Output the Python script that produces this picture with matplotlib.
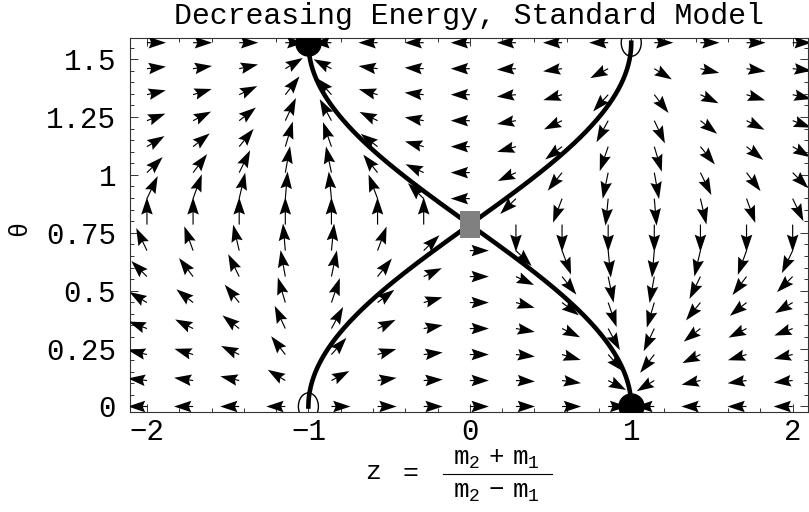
import numpy as np
import matplotlib.pyplot as plt
from matplotlib.patches import Ellipse, Rectangle
from matplotlib.ticker import MultipleLocator
from matplotlib.lines import Line2D

plt.rcParams['font.family'] = ['Liberation Mono', 'DejaVu Sans Mono']
plt.rcParams['mathtext.fontset'] = 'custom'
plt.rcParams['mathtext.rm'] = 'Liberation Mono'
plt.rcParams['mathtext.it'] = 'Liberation Mono'

# grid of the vector field (arrow tails)
z_grid = np.linspace(-2, 2, 15)
theta_grid = np.linspace(0, np.pi / 2, 15)
arrow_len = 0.118

# fixed points
stable_z = [-1, 1]
stable_theta = [np.pi / 2, 0]
unstable_z = [-1, 1]
unstable_theta = [0, np.pi / 2]
saddle_z = [0]
saddle_theta = [np.pi / 4]

x_ticks = [-2, -1, 0, 1, 2]
y_ticks = [0, 0.25, 0.5, 0.75, 1, 1.25, 1.5]
y_tick_labels = ['0', '0.25', '0.5', '0.75', '1', '1.25', '1.5']


def flow(z, th):
    dz = (1 - z**2) * np.cos(2 * th)
    dth = -0.5 * z * np.sin(2 * th)
    return dz, dth


fig = plt.figure(figsize=(8.09, 5.12), dpi=100)
ax = fig.add_axes([130 / 809, 1 - 411.5 / 512, 678 / 809, (411.5 - 37.7) / 512])

Z, T = np.meshgrid(z_grid, theta_grid)
U, V = flow(Z, T)
N = np.hypot(U, V)
ok = N > 1e-9
ax.quiver(Z[ok], T[ok], U[ok] / N[ok] * arrow_len, V[ok] / N[ok] * arrow_len,
          angles='xy', scale_units='xy', scale=1, pivot='tail',
          width=0.0017, headwidth=10, headlength=15, headaxislength=13,
          color='black', zorder=3)

# separatrices through the saddle
th = np.linspace(0, np.pi / 2, 300)
ax.plot(-np.cos(2 * th), th, color='black', lw=3.3, zorder=2)
ax.plot(np.cos(2 * th), th, color='black', lw=3.3, zorder=2)

# fixed points
ax.plot(stable_z, stable_theta, 'o', color='black', ms=18, zorder=5)
for zc, tc in zip(unstable_z, unstable_theta):
    ax.add_patch(Ellipse((zc, tc), 0.124, 0.117, fc='none', ec='black', lw=1.0, zorder=5))
for zc, tc in zip(saddle_z, saddle_theta):
    ax.add_patch(Rectangle((zc - 0.062, tc - 0.058), 0.124, 0.117, fc='#808080', ec='none', zorder=5))

ax.set_xlim(-2.105, 2.095)
ax.set_ylim(-0.0216, np.pi / 2 + 0.0216)

ax.set_xticks(x_ticks)
ax.set_xticklabels([str(v) if v >= 0 else '\u2212' + str(-v) for v in x_ticks])
ax.set_yticks(y_ticks)
ax.set_yticklabels(y_tick_labels)
ax.xaxis.set_minor_locator(MultipleLocator(0.2))
ax.yaxis.set_minor_locator(MultipleLocator(0.05))
ax.tick_params(which='both', direction='in', top=True, right=True, width=0.7, color='#333333')
ax.tick_params(which='major', length=6, labelsize=21)
ax.tick_params(axis='x', which='major', pad=5)
ax.tick_params(axis='y', which='major', pad=10)
ax.tick_params(which='minor', length=3)
for s in ax.spines.values():
    s.set_linewidth(0.8)
    s.set_color('#333333')

fig.text(469 / 809, 1 - 16 / 512, 'Decreasing Energy, Standard Model',
         ha='center', va='center', fontsize=21.5)
fig.text(19 / 809, 1 - 229 / 512, '\u03b8', rotation=90, ha='center', va='center', fontsize=18)

# x label: z = (m2 + m1)/(m2 - m1)
fig.text(373 / 809, 1 - 472 / 512, 'z', ha='center', va='center', fontsize=19)
fig.text(410 / 809, 1 - 473 / 512, '=', ha='center', va='center', fontsize=19)
fig.text(496 / 809, 1 - 459 / 512, r'$\mathrm{m}_{2}\ +\ \mathrm{m}_{1}$',
         ha='center', va='center', fontsize=18.5)
fig.text(496 / 809, 1 - 492 / 512, r'$\mathrm{m}_{2}\ -\ \mathrm{m}_{1}$',
         ha='center', va='center', fontsize=18.5)
fig.add_artist(Line2D([443 / 809, 552 / 809], [1 - 474 / 512, 1 - 474 / 512],
                      color='black', lw=0.8, transform=fig.transFigure))

fig.savefig('out.png', dpi=100)
